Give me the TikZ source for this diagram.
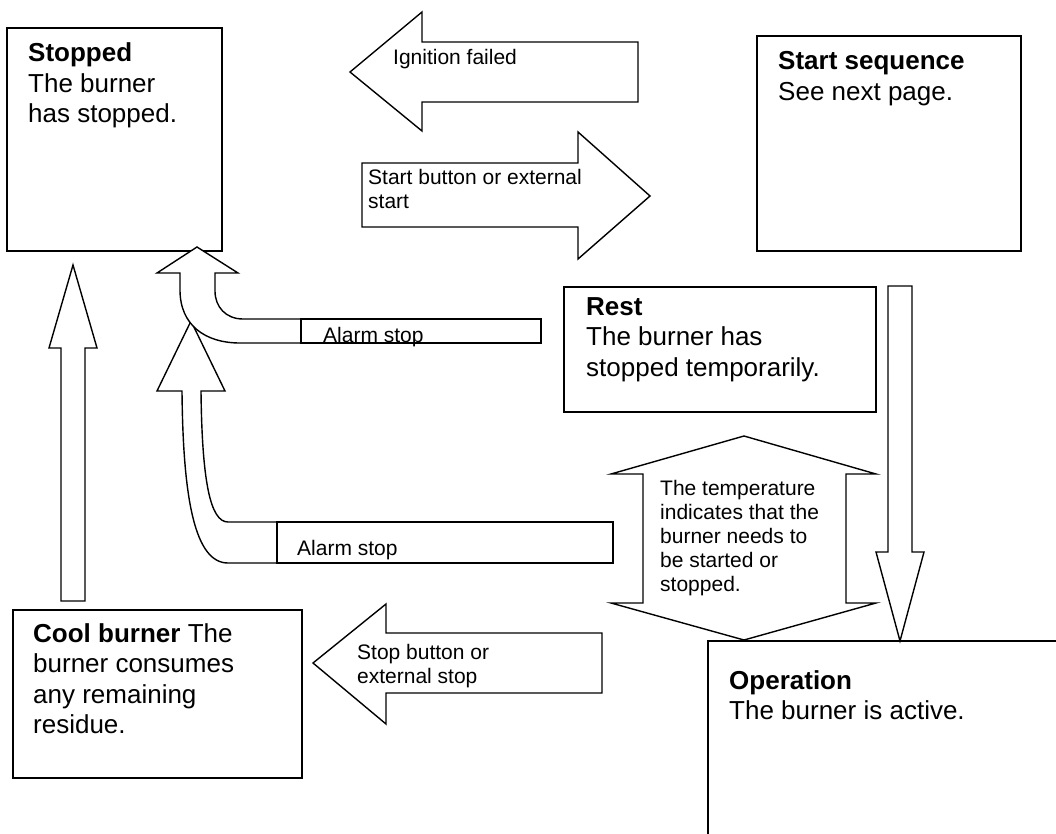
\documentclass[tikz,border=0pt]{standalone}
\usepackage{fontspec}
\setmainfont{Liberation Sans}
\begin{document}
\begin{tikzpicture}[x=1pt,y=-1pt,
  box/.style={draw, line width=1.5pt, inner sep=0pt, outer sep=0pt, anchor=north west},
  blockarrow/.style={draw, fill=white, line width=1.4pt, line join=miter},
  bigtext/.style={font=\fontsize{26}{30.5}\selectfont, inner sep=0pt, anchor=base west, align=left},
  smalltext/.style={font=\fontsize{21}{24}\selectfont, inner sep=0pt, anchor=base west, align=left}]

\useasboundingbox (0,0) rectangle (1056,834);
\clip (0,0) rectangle (1056,834);
\fill[white] (0,0) rectangle (1056,834);

% state boxes
\node[box, minimum width=215pt, minimum height=223pt] (stopped) at (7,28) {};
\node[box, minimum width=264pt, minimum height=215pt] (startseq) at (757,36) {};
\node[box, minimum width=312pt, minimum height=125pt] (rest) at (564,287) {};
\node[box, minimum width=289pt, minimum height=168pt] (cool) at (13,610) {};
\node[box, minimum width=420pt, minimum height=260pt] (operation) at (708,641) {};

% straight block arrows
\draw[blockarrow] (638,42) -- (422,42) -- (422,12) -- (350,72) -- (422,131) -- (422,102) -- (638,102) -- cycle;
\draw[blockarrow] (362,163) -- (578,163) -- (578,132) -- (650,196) -- (578,259) -- (578,227) -- (362,227) -- cycle;
\draw[blockarrow] (602,633) -- (386,633) -- (386,604) -- (313,663) -- (386,724) -- (386,693) -- (602,693) -- cycle;
\draw[blockarrow] (61,601) -- (61,348) -- (49,348) -- (73,265) -- (97,348) -- (85,348) -- (85,601) -- cycle;
\draw[blockarrow] (888,286) -- (912,286) -- (912,552) -- (924,552) -- (900,641) -- (876,552) -- (888,552) -- cycle;

% two-headed arrow
\draw[blockarrow] (744,436) -- (876,474) -- (846,474) -- (846,603) -- (876,603) -- (744,640)
  -- (611,603) -- (643,603) -- (643,474) -- (611,474) -- cycle;

% bent alarm-stop arrows
\draw[blockarrow] (277,522) -- (228,522) .. controls (210,522) and (202,480) .. (201,391)
  -- (225,391) -- (191,321) -- (157,391) -- (182,391)
  .. controls (183,500) and (195,563) .. (228,563) -- (277,563);
\draw[blockarrow] (301,319) -- (243,319) .. controls (226,319) and (215,307) .. (215,291)
  -- (215,273) -- (238,273) -- (197,247) -- (157,273) -- (180,273) -- (180,290)
  .. controls (180,325) and (205,343) .. (240,343) -- (301,343);
\node[box, fill=white, minimum width=240pt, minimum height=24pt] (alarmA) at (301,319) {};
\node[box, fill=white, minimum width=336pt, minimum height=41pt] (alarmB) at (277,522) {};

% texts (each placed at the baseline of its last line)
\node[bigtext] (stoppedtxt) at (28,123) {\textbf{Stopped}\\The burner\\has stopped.};
\node[bigtext] (startseqtxt) at (778,100.5) {\textbf{Start sequence}\\See next page.};
\node[bigtext] (resttxt) at (586,376) {\textbf{Rest}\\The burner has\\stopped temporarily.};
\node[bigtext] (operationtxt) at (729,719.5) {\textbf{Operation}\\The burner is active.};
\node[bigtext] (cooltxt) at (33,733.5) {\textbf{Cool burner} The\\burner consumes\\any remaining\\residue.};

\node[smalltext] (ignitiontxt) at (393,65) {Ignition failed};
\node[smalltext] (starttxt) at (368,209) {Start button or external\\start};
\node[smalltext] (stoptxt) at (357,683) {Stop button or\\external stop};
\node[smalltext] (temptxt) at (660,591) {The temperature\\indicates that the\\burner needs to\\be started or\\stopped.};
\node[smalltext] (alarmAtxt) at (323,342) {Alarm stop};
\node[smalltext] (alarmBtxt) at (297,555) {Alarm stop};
\end{tikzpicture}
\end{document}
